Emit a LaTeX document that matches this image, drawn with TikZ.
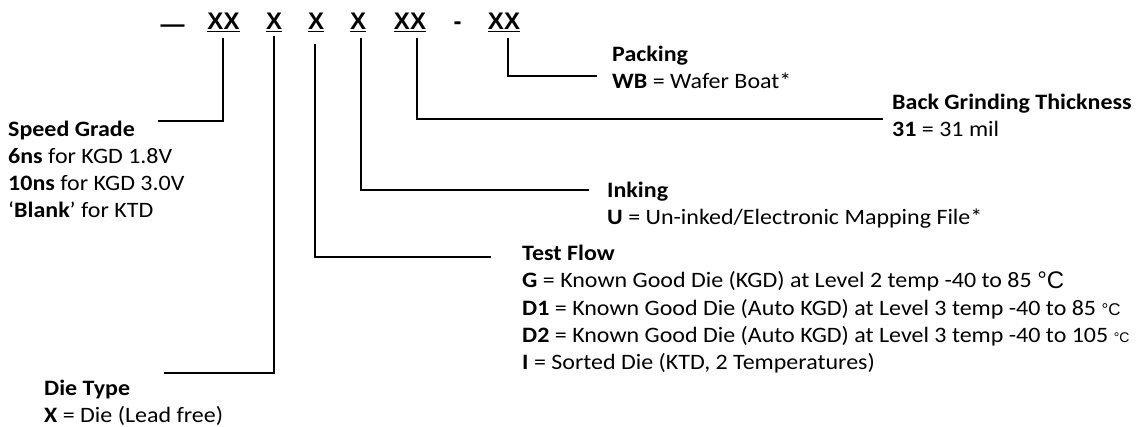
\documentclass[tikz,border=0pt]{standalone}
\usepackage{fontspec}
\setmainfont{Carlito}[FakeStretch=1.09]
\newfontfamily\hdrfont{Liberation Sans}
\begin{document}
\begin{tikzpicture}[x=1pt,y=-1pt,
  hdr/.style={font=\hdrfont\bfseries\fontsize{24}{28}\selectfont, inner sep=0pt, anchor=base},
  lbl/.style={font=\fontsize{22}{27}\selectfont, align=left, anchor=base west, inner sep=0pt},
  conn/.style={line width=1.3pt, line cap=rect}]
\useasboundingbox (0,0) rectangle (1145,427);
% header
\node[hdr] (dash) at (172.5,30) {\raisebox{-3pt}{—}};
\node[hdr] (h1) at (223.5,30) {\underline{XX}};
\node[hdr] (h2) at (274,30) {\underline{X}};
\node[hdr] (h3) at (316,30) {\underline{X}};
\node[hdr] (h4) at (358,30) {\underline{X}};
\node[hdr] (h5) at (410,30) {\underline{XX}};
\node[hdr] (hy) at (457.5,30) {-};
\node[hdr] (h6) at (504,30) {\underline{XX}};
% labels (anchor base = last line)
\node[lbl] (sg) at (8,218) {\textbf{Speed Grade}\\\textbf{6ns} for KGD 1.8V\\\textbf{10ns} for KGD 3.0V\\‘\textbf{Blank}’ for KTD};
\node[lbl] (dt) at (44,422) {\textbf{Die Type}\\\textbf{X} = Die (Lead free)};
\node[lbl] (tf) at (522,369) {\textbf{Test Flow}\\
\textbf{G} = Known Good Die (KGD) at Level 2 temp -40 to 85 {\hdrfont\fontsize{24}{27}\selectfont °C}\\
\textbf{D1} = Known Good Die (Auto KGD) at Level 3 temp -40 to 85 {\hdrfont\fontsize{17}{27}\selectfont °C}\\
\textbf{D2} = Known Good Die (Auto KGD) at Level 3 temp -40 to 105 {\hdrfont\fontsize{14}{27}\selectfont °C}\\
\textbf{I} = Sorted Die (KTD, 2 Temperatures)};
\node[lbl] (ink) at (607,225) {\textbf{Inking}\\\textbf{U} = Un-inked/Electronic Mapping File*};
\node[lbl] (bg) at (892,137) {\textbf{Back Grinding Thickness}\\\textbf{31} = 31 mil};
\node[lbl] (pk) at (612,89) {\textbf{Packing}\\\textbf{WB} = Wafer Boat*};
% connector ends
\coordinate (c1) at (159,121);
\coordinate (c2) at (165,373);
\coordinate (c3) at (490,257);
\coordinate (c4) at (588,190);
\coordinate (c5) at (882,119);
\coordinate (c6) at (596,76);
\draw[conn] ([yshift=-6pt,xshift=-0.5pt]h1.south) |- (c1);
\draw[conn] ([yshift=-4pt]h2.south) |- (c2);
\draw[conn] ([yshift=-12pt,xshift=-1pt]h3.south) |- (c3);
\draw[conn] ([yshift=-6pt,xshift=3pt]h4.south) |- (c4);
\draw[conn] ([yshift=-6pt,xshift=7pt]h5.south) |- (c5);
\draw[conn] ([yshift=-6pt,xshift=4pt]h6.south) |- (c6);
\end{tikzpicture}
\end{document}
